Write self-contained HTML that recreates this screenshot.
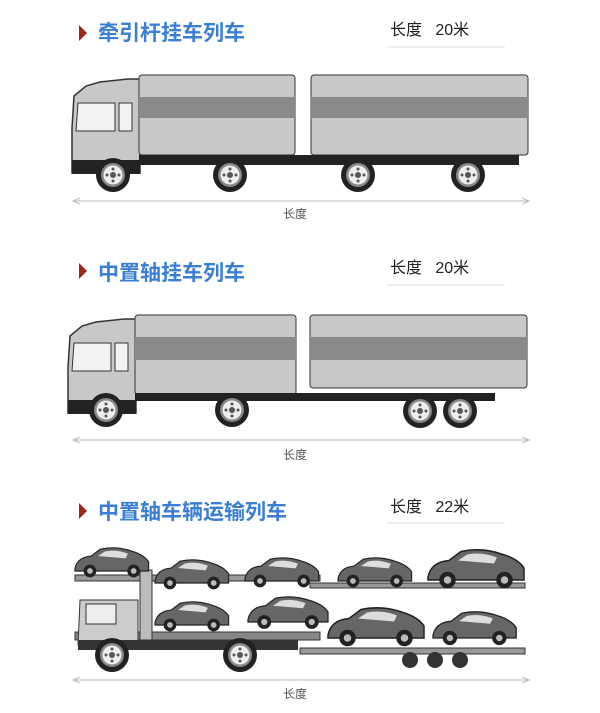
<!DOCTYPE html>
<html><head><meta charset="utf-8"><style>
body{margin:0;background:#fff;}
svg{display:block;font-family:"Liberation Sans","Noto Sans CJK SC",sans-serif;}
</style></head><body>
<svg width="600" height="713" viewBox="0 0 600 713">
<defs>
<g id="wheel"><circle r="17" fill="#222"/><circle r="12" fill="#888"/><circle r="9.5" fill="#eee"/><circle r="3" fill="#555"/>
<circle cx="6" r="1.5" fill="#555"/><circle cx="-6" r="1.5" fill="#555"/><circle cy="6" r="1.5" fill="#555"/><circle cy="-6" r="1.5" fill="#555"/></g>
<g id="cab">
<path d="M0 50 L2 18 L14 8 L28 4 L56 1 L68 1 L68 95 L0 95 Z" fill="#c8c8c8" stroke="#333" stroke-width="1.5"/>
<path d="M6 25 L43 25 L43 53 L4 53 Z" fill="#f2f2f2" stroke="#333"/>
<rect x="47" y="25" width="13" height="28" fill="#f2f2f2" stroke="#333"/>
<rect x="0" y="82" width="68" height="14" fill="#222"/>
</g>
<g id="car"><path d="M0 18 Q2 8 14 7 L22 1 Q36 -2 50 3 Q60 6 64 12 L64 20 L0 20 Z" fill="#666" stroke="#222"/>
<path d="M20 7 L26 3 Q36 1 46 5 L44 9 Z" fill="#ddd"/><circle cx="13" cy="20" r="5.5" fill="#222"/><circle cx="13" cy="20" r="2.5" fill="#bbb"/><circle cx="51" cy="20" r="5.5" fill="#222"/><circle cx="51" cy="20" r="2.5" fill="#bbb"/></g>
<marker id="ar" markerWidth="8" markerHeight="8" refX="7" refY="4" orient="auto-start-reverse"><path d="M0 1 L7 4 L0 7" fill="none" stroke="#bbb"/></marker>
</defs>

<!-- Section 1 -->
<path d="M79 25 L87 33 L79 41 Z" fill="#9b2a1a"/>
<text x="98" y="40" font-size="21" font-weight="bold" fill="#3a7fd5">牵引杆挂车列车</text>
<text x="390" y="35" font-size="16" fill="#222">长度 &#160; 20米</text>
<line x1="387" y1="47" x2="505" y2="47" stroke="#ddd"/>
<use href="#cab" x="72" y="78"/>
<rect x="139" y="75" width="156" height="80" rx="3" fill="#c8c8c8" stroke="#333"/>
<rect x="139" y="97" width="156" height="21" fill="#8a8a8a"/>
<rect x="311" y="75" width="217" height="80" rx="3" fill="#c8c8c8" stroke="#333"/>
<rect x="311" y="97" width="217" height="21" fill="#8a8a8a"/>
<rect x="139" y="155" width="380" height="10" fill="#222"/>
<use href="#wheel" x="113" y="175"/><use href="#wheel" x="230" y="175"/><use href="#wheel" x="358" y="175"/><use href="#wheel" x="468" y="175"/>
<line x1="73" y1="201" x2="529" y2="201" stroke="#bbb" marker-start="url(#ar)" marker-end="url(#ar)"/>
<text x="283" y="218" font-size="12" fill="#555">长度</text>

<!-- Section 2 -->
<path d="M79 263 L87 271 L79 279 Z" fill="#9b2a1a"/>
<text x="98" y="280" font-size="21" font-weight="bold" fill="#3a7fd5">中置轴挂车列车</text>
<text x="390" y="273" font-size="16" fill="#222">长度 &#160; 20米</text>
<line x1="387" y1="285" x2="505" y2="285" stroke="#ddd"/>
<use href="#cab" x="68" y="318"/>
<rect x="135" y="315" width="161" height="80" rx="3" fill="#c8c8c8" stroke="#333"/>
<rect x="135" y="337" width="161" height="23" fill="#8a8a8a"/>
<rect x="310" y="315" width="217" height="73" rx="3" fill="#c8c8c8" stroke="#333"/>
<rect x="310" y="337" width="217" height="23" fill="#8a8a8a"/>
<rect x="135" y="393" width="360" height="8" fill="#222"/>
<use href="#wheel" x="106" y="410"/><use href="#wheel" x="232" y="410"/><use href="#wheel" x="420" y="411"/><use href="#wheel" x="460" y="411"/>
<line x1="73" y1="440" x2="529" y2="440" stroke="#bbb" marker-start="url(#ar)" marker-end="url(#ar)"/>
<text x="283" y="459" font-size="12" fill="#555">长度</text>

<!-- Section 3 -->
<path d="M79 503 L87 511 L79 519 Z" fill="#9b2a1a"/>
<text x="98" y="519" font-size="21" font-weight="bold" fill="#3a7fd5">中置轴车辆运输列车</text>
<text x="390" y="512" font-size="16" fill="#222">长度 &#160; 22米</text>
<line x1="387" y1="523" x2="505" y2="523" stroke="#ddd"/>
<rect x="75" y="575" width="245" height="6" fill="#999" stroke="#333"/>
<rect x="75" y="632" width="245" height="8" fill="#888" stroke="#333"/>
<rect x="140" y="570" width="12" height="70" fill="#bbb" stroke="#333"/>
<rect x="310" y="583" width="215" height="5" fill="#999" stroke="#333"/>
<rect x="300" y="648" width="225" height="6" fill="#999" stroke="#333"/>
<path d="M80 600 L138 600 L138 645 L78 645 Z" fill="#ccc" stroke="#333"/>
<rect x="86" y="604" width="30" height="20" fill="#eee" stroke="#333"/>
<rect x="78" y="640" width="220" height="10" fill="#333"/>
<g transform="translate(75,548) scale(1.15)"><use href="#car"/></g>
<g transform="translate(155,560) scale(1.15)"><use href="#car"/></g>
<g transform="translate(245,558) scale(1.15)"><use href="#car"/></g>
<g transform="translate(338,558) scale(1.15)"><use href="#car"/></g>
<g transform="translate(428,550) scale(1.5)"><use href="#car"/></g>
<g transform="translate(155,602) scale(1.15)"><use href="#car"/></g>
<g transform="translate(248,597) scale(1.25)"><use href="#car"/></g>
<g transform="translate(328,608) scale(1.5)"><use href="#car"/></g>
<g transform="translate(433,612) scale(1.3)"><use href="#car"/></g>
<use href="#wheel" x="112" y="655"/><use href="#wheel" x="240" y="655"/>
<circle cx="410" cy="660" r="8" fill="#333"/><circle cx="435" cy="660" r="8" fill="#333"/><circle cx="460" cy="660" r="8" fill="#333"/>
<line x1="73" y1="680" x2="529" y2="680" stroke="#bbb" marker-start="url(#ar)" marker-end="url(#ar)"/>
<text x="283" y="698" font-size="12" fill="#555">长度</text>
</svg>
</body></html>
